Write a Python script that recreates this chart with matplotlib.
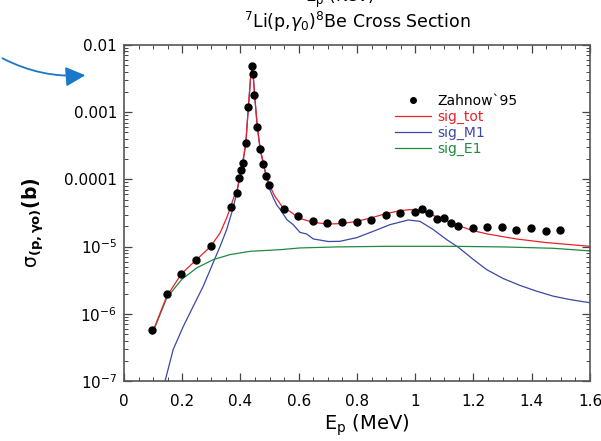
import matplotlib.pyplot as plt
from matplotlib.patches import FancyArrowPatch
from matplotlib.lines import Line2D
from matplotlib.ticker import MultipleLocator, LogLocator, NullFormatter

# Zahnow`95 data (E_p in MeV, sigma in b)
data_E = [0.097, 0.147, 0.197, 0.247, 0.298, 0.367, 0.387, 0.396, 0.402, 0.407,
          0.418, 0.427, 0.438, 0.443, 0.448, 0.458, 0.468, 0.477, 0.488, 0.498,
          0.548, 0.599, 0.649, 0.698, 0.749, 0.799, 0.848, 0.898, 0.948, 0.998,
          1.023, 1.048, 1.074, 1.098, 1.123, 1.148, 1.198, 1.248, 1.298, 1.347,
          1.397, 1.448, 1.498]
data_sig = [5.71e-7, 1.94e-6, 3.93e-6, 6.27e-6, 1.01e-5, 3.84e-5, 6.2e-5, 1.06e-4, 1.39e-4, 1.73e-4,
            3.5e-4, 1.21e-3, 4.88e-3, 3.75e-3, 1.83e-3, 6.0e-4, 2.82e-4, 1.71e-4, 1.13e-4, 8.3e-5,
            3.58e-5, 2.82e-5, 2.4e-5, 2.27e-5, 2.35e-5, 2.35e-5, 2.49e-5, 2.95e-5, 3.13e-5, 3.31e-5,
            3.58e-5, 3.2e-5, 2.55e-5, 2.64e-5, 2.22e-5, 2.03e-5, 1.91e-5, 1.98e-5, 1.96e-5, 1.77e-5,
            1.91e-5, 1.71e-5, 1.79e-5]
data_err = [0.06 * s for s in data_sig]

# model curves
tot_E = [0.097, 0.147, 0.198, 0.247, 0.298, 0.330, 0.3525, 0.366, 0.378, 0.387,
         0.398, 0.410, 0.419, 0.427, 0.435, 0.4395, 0.444, 0.449, 0.458, 0.468,
         0.488, 0.498, 0.507, 0.518, 0.530, 0.548, 0.570, 0.599, 0.649, 0.698,
         0.749, 0.799, 0.848, 0.898, 0.948, 0.982, 1.016, 1.050, 1.098, 1.148,
         1.198, 1.248, 1.347, 1.448, 1.6]
tot_sig = [5.22e-7, 1.83e-6, 3.97e-6, 6.27e-6, 1.01e-5, 1.60e-5, 2.67e-5, 3.88e-5, 5.58e-5, 6.64e-5,
           1.11e-4, 1.96e-4, 3.88e-4, 1.21e-3, 3.39e-3, 4.50e-3, 3.39e-3, 1.71e-3, 5.98e-4, 2.82e-4,
           1.17e-4, 8.83e-5, 7.03e-5, 5.6e-5, 4.76e-5, 3.63e-5, 3.35e-5, 2.67e-5, 2.30e-5, 2.17e-5,
           2.20e-5, 2.38e-5, 2.67e-5, 3.09e-5, 3.43e-5, 3.55e-5, 3.43e-5, 3.05e-5, 2.52e-5, 2.05e-5,
           1.73e-5, 1.54e-5, 1.30e-5, 1.15e-5, 1.01e-5]

m1_E = [0.141, 0.169, 0.204, 0.238, 0.272, 0.301, 0.330, 0.3525, 0.373, 0.387,
        0.4007, 0.418, 0.427, 0.435, 0.4395, 0.444, 0.449, 0.458, 0.468, 0.488,
        0.501, 0.513, 0.524, 0.541, 0.559, 0.581, 0.604, 0.627, 0.650, 0.702,
        0.742, 0.799, 0.856, 0.913, 0.976, 1.016, 1.062, 1.108, 1.148, 1.200,
        1.245, 1.302, 1.360, 1.417, 1.474, 1.531, 1.6]
m1_sig = [1.0e-7, 2.95e-7, 6.55e-7, 1.30e-6, 2.57e-6, 5.09e-6, 1.01e-5, 1.79e-5, 3.54e-5, 6.27e-5,
          1.24e-4, 3.27e-4, 1.15e-3, 3.39e-3, 4.36e-3, 3.31e-3, 1.67e-3, 5.78e-4, 2.69e-4, 1.11e-4,
          7.03e-5, 5.28e-5, 4.21e-5, 3.35e-5, 2.52e-5, 2.12e-5, 1.63e-5, 1.54e-5, 1.30e-5, 1.19e-5,
          1.20e-5, 1.36e-5, 1.69e-5, 2.12e-5, 2.49e-5, 2.38e-5, 1.79e-5, 1.27e-5, 9.77e-6, 6.41e-6,
          4.55e-6, 3.35e-6, 2.64e-6, 2.17e-6, 1.83e-6, 1.63e-6, 1.46e-6]

e1_E = [0.097, 0.147, 0.198, 0.2495, 0.307, 0.364, 0.433, 0.536, 0.604, 0.730,
        0.902, 1.131, 1.302, 1.474, 1.6]
e1_sig = [5.0e-7, 1.73e-6, 3.24e-6, 4.82e-6, 6.41e-6, 7.60e-6, 8.51e-6, 9.0e-6, 9.55e-6, 9.89e-6,
          1.01e-5, 1.01e-5, 9.89e-6, 9.44e-6, 8.63e-6]

y_ticks = [1e-7, 1e-6, 1e-5, 1e-4, 1e-3, 1e-2]
y_labels = [r'$10^{-7}$', r'$10^{-6}$', r'$10^{-5}$', '0.0001', '0.001', '0.01']
x_ticks = [0, 0.2, 0.4, 0.6, 0.8, 1.0, 1.2, 1.4, 1.6]
x_labels = ['0', '0.2', '0.4', '0.6', '0.8', '1', '1.2', '1.4', '1.6']

red = '#e8232b'
blue = '#3a48a8'
green = '#1f8a40'

fig = plt.figure(figsize=(6.01, 4.41), dpi=100)
ax = fig.add_axes([0.2063, 0.136, 0.7754, 0.762])

ax.plot(tot_E, tot_sig, color=red, lw=0.9, zorder=3)
ax.plot(m1_E, m1_sig, color=blue, lw=0.9, zorder=2)
ax.plot(e1_E, e1_sig, color=green, lw=0.9, zorder=2)
ax.errorbar(data_E, data_sig, yerr=data_err, fmt='o', color='black', ms=5,
            elinewidth=0.8, capsize=0, zorder=4)

ax.set_yscale('log')
ax.set_xlim(0, 1.6)
ax.set_ylim(1e-7, 1e-2)
ax.set_xticks(x_ticks)
ax.set_xticklabels(x_labels)
ax.set_yticks(y_ticks)
ax.set_yticklabels(y_labels)
ax.xaxis.set_minor_locator(MultipleLocator(0.05))
ax.yaxis.set_minor_locator(LogLocator(base=10, subs=range(2, 10), numticks=20))
ax.yaxis.set_minor_formatter(NullFormatter())
ax.tick_params(which='both', direction='in', top=True, right=True, color='#444444')
ax.tick_params(which='major', length=6, width=0.9, labelsize=11)
ax.tick_params(axis='x', which='major', pad=9)
ax.tick_params(axis='y', which='major', pad=5)
ax.tick_params(which='minor', length=3, width=0.7)
for s in ax.spines.values():
    s.set_color('#555555')
    s.set_linewidth(1.2)

ax.set_xlabel(r'E$_\mathregular{p}$ (MeV)', fontsize=14)
ax.xaxis.set_label_coords(0.521, -0.095)
ax.set_ylabel(r'σ$_{\mathbf{(p,\gamma o)}}$$\mathbf{(b)}$', fontsize=13.5)
ax.yaxis.set_label_coords(-0.168, 0.47)
ax.set_title(r'$^7$Li(p,$\gamma_0$)$^8$Be Cross Section', fontsize=12.5, pad=12)
fig.text(0.566, 1 - 1.5 / 441, r'E$_\mathregular{p}$ (KeV)', fontsize=12, ha='center', va='baseline')

# legend
handles = [Line2D([], [], marker='o', ls='none', color='black', ms=4),
           Line2D([], [], color=red, lw=0.9),
           Line2D([], [], color=blue, lw=0.9),
           Line2D([], [], color=green, lw=0.9)]
labels = ['Zahnow`95', 'sig_tot', 'sig_M1', 'sig_E1']
leg = ax.legend(handles, labels, loc='upper left', bbox_to_anchor=(0.566, 0.876), frameon=False,
                fontsize=10, handlelength=2.6, handletextpad=0.5, labelspacing=0.15,
                borderpad=0)
for txt, c in zip(leg.get_texts(), ['black', red, blue, green]):
    txt.set_color(c)

arrow = FancyArrowPatch((0.0, 1 - 57 / 441), (0.1465, 1 - 75 / 441), transform=fig.transFigure,
                        connectionstyle='arc3,rad=0.15',
                        arrowstyle='-|>,head_length=12,head_width=6',
                        mutation_scale=1, color='#1a78c8', lw=1.3)
fig.patches.append(arrow)

fig.savefig('out.png', dpi=100)
